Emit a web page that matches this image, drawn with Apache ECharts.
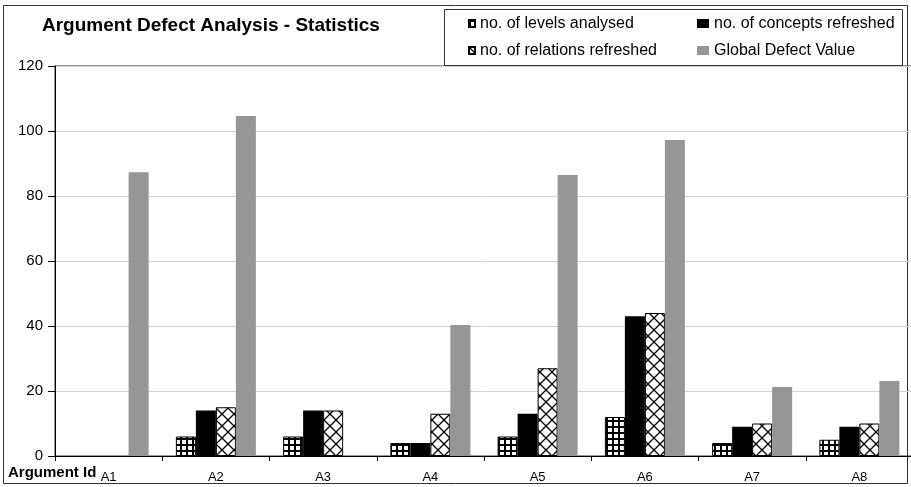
<!DOCTYPE html>
<html>
<head>
<meta charset="utf-8">
<script src="https://cdn.jsdelivr.net/npm/echarts@6/dist/echarts.min.js"></script>
<style>
  html, body { margin: 0; padding: 0; background: #fff; }
  #chart { width: 911px; height: 487px; }
</style>
</head>
<body>
<div id="chart"></div>
<script>
// Argument ids on the category axis
const categories = ['A1', 'A2', 'A3', 'A4', 'A5', 'A6', 'A7', 'A8'];
// Per-argument statistics (null = nothing recorded)
const levelsAnalysed = [null, 6, 6, 4, 6, 12, 4, 5];
const conceptsRefreshed = [null, 14, 14, 4, 13, 43, 9, 9];
const relationsRefreshed = [null, 15, 14, 13, 27, 44, 10, 10];
const globalDefectValue = [87.3, 104.6, null, 40.3, 86.5, 97.2, 21.2, 23.1];
// Value axis ticks
const yTicks = [0, 20, 40, 60, 80, 100, 120];

const FONT = '"Liberation Sans", Arial, sans-serif';

// Square grid fill for the "levels" bars
function gridPattern() {
  const c = document.createElement('canvas');
  c.width = 6; c.height = 6;
  const g = c.getContext('2d');
  g.fillStyle = '#fff'; g.fillRect(0, 0, 6, 6);
  g.fillStyle = '#000';
  g.fillRect(0, 0, 6, 2);
  g.fillRect(0, 0, 2, 6);
  return c;
}

// Diagonal cross-hatch fill for the "relations" bars
function crossPattern() {
  const s = 12;
  const c = document.createElement('canvas');
  c.width = s; c.height = s;
  const g = c.getContext('2d');
  g.fillStyle = '#fff'; g.fillRect(0, 0, s, s);
  g.strokeStyle = '#000'; g.lineWidth = 1.3;
  g.beginPath();
  g.moveTo(0, 0); g.lineTo(s, s);
  g.moveTo(s, 0); g.lineTo(0, s);
  g.stroke();
  return c;
}

const chart = echarts.init(document.getElementById('chart'), null, { renderer: 'canvas' });

const barW = 20;
const legendText = { fontFamily: FONT, fontSize: 16, color: '#000', lineHeight: 17 };

chart.setOption({
  animation: false,
  backgroundColor: '#fff',
  grid: {
    left: 55, right: -2, top: 66, bottom: 31,
    containLabel: false,
    outerBoundsMode: 'none',
    show: true, borderColor: '#333', borderWidth: 1
  },
  legend: [
    {
      orient: 'vertical', left: 468, top: 15, padding: 0,
      itemWidth: 6, itemHeight: 7, itemGap: 10, icon: 'rect',
      textStyle: legendText,
      data: ['no. of levels analysed', 'no. of relations refreshed']
    },
    {
      orient: 'vertical', left: 697, top: 15, padding: 0,
      itemWidth: 12, itemHeight: 9, itemGap: 10, icon: 'rect',
      textStyle: legendText,
      data: ['no. of concepts refreshed', 'Global Defect Value']
    }
  ],
  xAxis: {
    type: 'category',
    data: categories,
    axisLine: { lineStyle: { color: '#000', width: 1 } },
    axisTick: { show: true, length: 5, alignWithLabel: false, lineStyle: { color: '#000' } },
    axisLabel: { fontFamily: FONT, fontSize: 13, color: '#000', margin: 15 },
    splitLine: { show: false }
  },
  yAxis: {
    type: 'value',
    min: yTicks[0], max: yTicks[yTicks.length - 1], interval: 20,
    axisLine: { show: true, lineStyle: { color: '#000', width: 1 } },
    axisTick: { show: true, length: 7, lineStyle: { color: '#000' } },
    axisLabel: { fontFamily: FONT, fontSize: 15, color: '#000', margin: 12 },
    splitLine: { show: true, lineStyle: { color: '#d2d2d2', width: 1 } }
  },
  series: [
    {
      name: 'no. of levels analysed', type: 'bar', barWidth: barW, barGap: '0%',
      itemStyle: { color: { image: gridPattern(), repeat: 'repeat' }, borderColor: '#000', borderWidth: 1 },
      data: levelsAnalysed
    },
    {
      name: 'no. of concepts refreshed', type: 'bar', barWidth: barW, barGap: '0%',
      itemStyle: { color: '#000' },
      data: conceptsRefreshed
    },
    {
      name: 'no. of relations refreshed', type: 'bar', barWidth: barW, barGap: '0%',
      itemStyle: { color: { image: crossPattern(), repeat: 'repeat' }, borderColor: '#000', borderWidth: 1 },
      data: relationsRefreshed
    },
    {
      name: 'Global Defect Value', type: 'bar', barWidth: barW, barGap: '0%',
      itemStyle: { color: '#969696' },
      data: globalDefectValue
    }
  ],
  graphic: [
    {
      type: 'rect', silent: true, z: 0,
      shape: { x: 3.5, y: 5.5, width: 904, height: 478 },
      style: { fill: 'none', stroke: '#333', lineWidth: 1 }
    },
    {
      type: 'rect', silent: true, z: 0,
      shape: { x: 444.5, y: 9.5, width: 458, height: 56 },
      style: { fill: 'none', stroke: '#333', lineWidth: 1 }
    },
    {
      type: 'text', left: 42, top: 16,
      style: { text: 'Argument Defect Analysis - Statistics', font: 'bold 19px ' + FONT, fill: '#000' }
    },
    {
      type: 'text', left: 8, top: 465,
      style: { text: 'Argument Id', font: 'bold 15px ' + FONT, fill: '#000' }
    }
  ]
});
</script>
</body>
</html>
